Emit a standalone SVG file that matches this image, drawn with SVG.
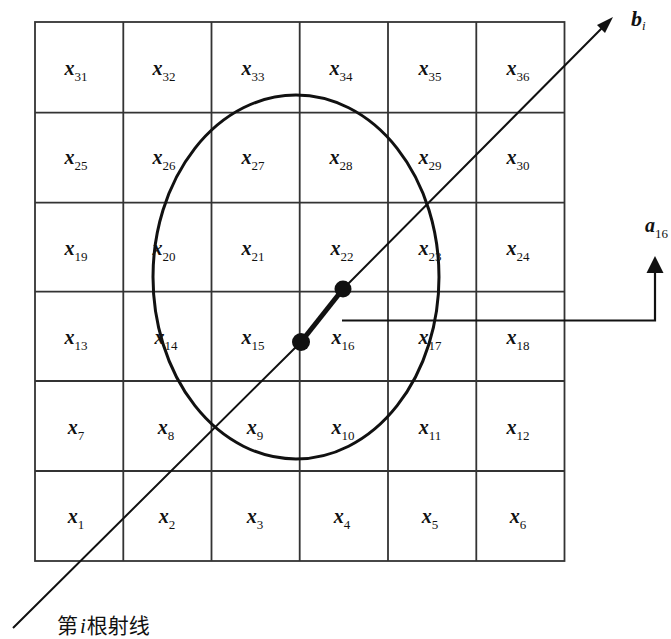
<svg xmlns="http://www.w3.org/2000/svg" width="671" height="639" viewBox="0 0 671 639">
<defs>
<style>
.grid{stroke:#333;stroke-width:1.8;fill:none}
.lbl{font-family:"Liberation Serif","Times New Roman",serif;font-size:20px;fill:#111;text-anchor:middle}
.v{font-weight:bold;font-style:italic}
.s{font-size:13px;font-weight:normal;font-style:normal}
.ray{stroke:#111;stroke-width:2;fill:none}
</style>
</defs>
<rect width="671" height="639" fill="#fff"/>
<g id="grid">
<rect class="grid" x="35" y="22" width="529.5" height="539"/>
<path class="grid" d="M123.3 22V561M211.5 22V561M299.7 22V561M388 22V561M476.3 22V561M35 112.7H564.5M35 202.7H564.5M35 291.7H564.5M35 381H564.5M35 471H564.5"/>
</g>
<g id="labels" class="lbl">
<text x="76" y="75"><tspan class="v">x</tspan><tspan class="s" dy="6">31</tspan></text>
<text x="164" y="75"><tspan class="v">x</tspan><tspan class="s" dy="6">32</tspan></text>
<text x="253" y="75"><tspan class="v">x</tspan><tspan class="s" dy="6">33</tspan></text>
<text x="341" y="75"><tspan class="v">x</tspan><tspan class="s" dy="6">34</tspan></text>
<text x="430" y="75"><tspan class="v">x</tspan><tspan class="s" dy="6">35</tspan></text>
<text x="518" y="75"><tspan class="v">x</tspan><tspan class="s" dy="6">36</tspan></text>
<text x="76" y="164"><tspan class="v">x</tspan><tspan class="s" dy="6">25</tspan></text>
<text x="164" y="164"><tspan class="v">x</tspan><tspan class="s" dy="6">26</tspan></text>
<text x="253" y="164"><tspan class="v">x</tspan><tspan class="s" dy="6">27</tspan></text>
<text x="341" y="164"><tspan class="v">x</tspan><tspan class="s" dy="6">28</tspan></text>
<text x="430" y="164"><tspan class="v">x</tspan><tspan class="s" dy="6">29</tspan></text>
<text x="518" y="164"><tspan class="v">x</tspan><tspan class="s" dy="6">30</tspan></text>
<text x="76" y="255"><tspan class="v">x</tspan><tspan class="s" dy="6">19</tspan></text>
<text x="164" y="255"><tspan class="v">x</tspan><tspan class="s" dy="6">20</tspan></text>
<text x="253" y="255"><tspan class="v">x</tspan><tspan class="s" dy="6">21</tspan></text>
<text x="342" y="255"><tspan class="v">x</tspan><tspan class="s" dy="6">22</tspan></text>
<text x="430" y="255"><tspan class="v">x</tspan><tspan class="s" dy="6">23</tspan></text>
<text x="518" y="255"><tspan class="v">x</tspan><tspan class="s" dy="6">24</tspan></text>
<text x="76" y="344"><tspan class="v">x</tspan><tspan class="s" dy="6">13</tspan></text>
<text x="166" y="344"><tspan class="v">x</tspan><tspan class="s" dy="6">14</tspan></text>
<text x="253" y="344"><tspan class="v">x</tspan><tspan class="s" dy="6">15</tspan></text>
<text x="343" y="344"><tspan class="v">x</tspan><tspan class="s" dy="6">16</tspan></text>
<text x="430" y="344"><tspan class="v">x</tspan><tspan class="s" dy="6">17</tspan></text>
<text x="518" y="344"><tspan class="v">x</tspan><tspan class="s" dy="6">18</tspan></text>
<text x="76" y="434"><tspan class="v">x</tspan><tspan class="s" dy="6">7</tspan></text>
<text x="166" y="434"><tspan class="v">x</tspan><tspan class="s" dy="6">8</tspan></text>
<text x="255" y="434"><tspan class="v">x</tspan><tspan class="s" dy="6">9</tspan></text>
<text x="343" y="434"><tspan class="v">x</tspan><tspan class="s" dy="6">10</tspan></text>
<text x="430" y="434"><tspan class="v">x</tspan><tspan class="s" dy="6">11</tspan></text>
<text x="518" y="434"><tspan class="v">x</tspan><tspan class="s" dy="6">12</tspan></text>
<text x="76" y="523"><tspan class="v">x</tspan><tspan class="s" dy="6">1</tspan></text>
<text x="167" y="523"><tspan class="v">x</tspan><tspan class="s" dy="6">2</tspan></text>
<text x="255" y="523"><tspan class="v">x</tspan><tspan class="s" dy="6">3</tspan></text>
<text x="342" y="523"><tspan class="v">x</tspan><tspan class="s" dy="6">4</tspan></text>
<text x="430" y="523"><tspan class="v">x</tspan><tspan class="s" dy="6">5</tspan></text>
<text x="518" y="523"><tspan class="v">x</tspan><tspan class="s" dy="6">6</tspan></text>
</g>
<g id="ellipse">
<ellipse cx="296" cy="277" rx="143" ry="182" fill="none" stroke="#111" stroke-width="3"/>
</g>
<g id="connectors">
<path class="ray" d="M13 628L301 342M343 289L602 28"/>
<polygon points="613,17 597,25 605,33" fill="#111"/>
<path d="M301 342L343 289" stroke="#111" stroke-width="5" fill="none"/>
<circle cx="301" cy="342" r="9" fill="#111"/>
<circle cx="343" cy="289" r="8.5" fill="#111"/>
<path d="M342 320.5H655V270" stroke="#111" stroke-width="2.2" fill="none"/>
<polygon points="655,256 646.5,273 663.5,273" fill="#111"/>
</g>
<g id="annotations">
<text x="631" y="26" font-family="Liberation Serif, serif" font-size="22" font-style="italic" font-weight="bold" fill="#111">b<tspan font-size="13" dy="4" font-weight="normal">i</tspan></text>
<text x="645" y="232" font-family="Liberation Serif, serif" font-size="20" font-style="italic" font-weight="bold" fill="#111">a<tspan font-size="13" dy="6" font-weight="normal" font-style="normal">16</tspan></text>
<text x="57" y="633" font-family="Liberation Serif, Noto Sans CJK SC, serif" font-size="21" fill="#111">第<tspan font-style="italic" font-family="Liberation Serif, serif" dx="2">i</tspan><tspan dx="1">根射线</tspan></text>
</g>
</svg>
